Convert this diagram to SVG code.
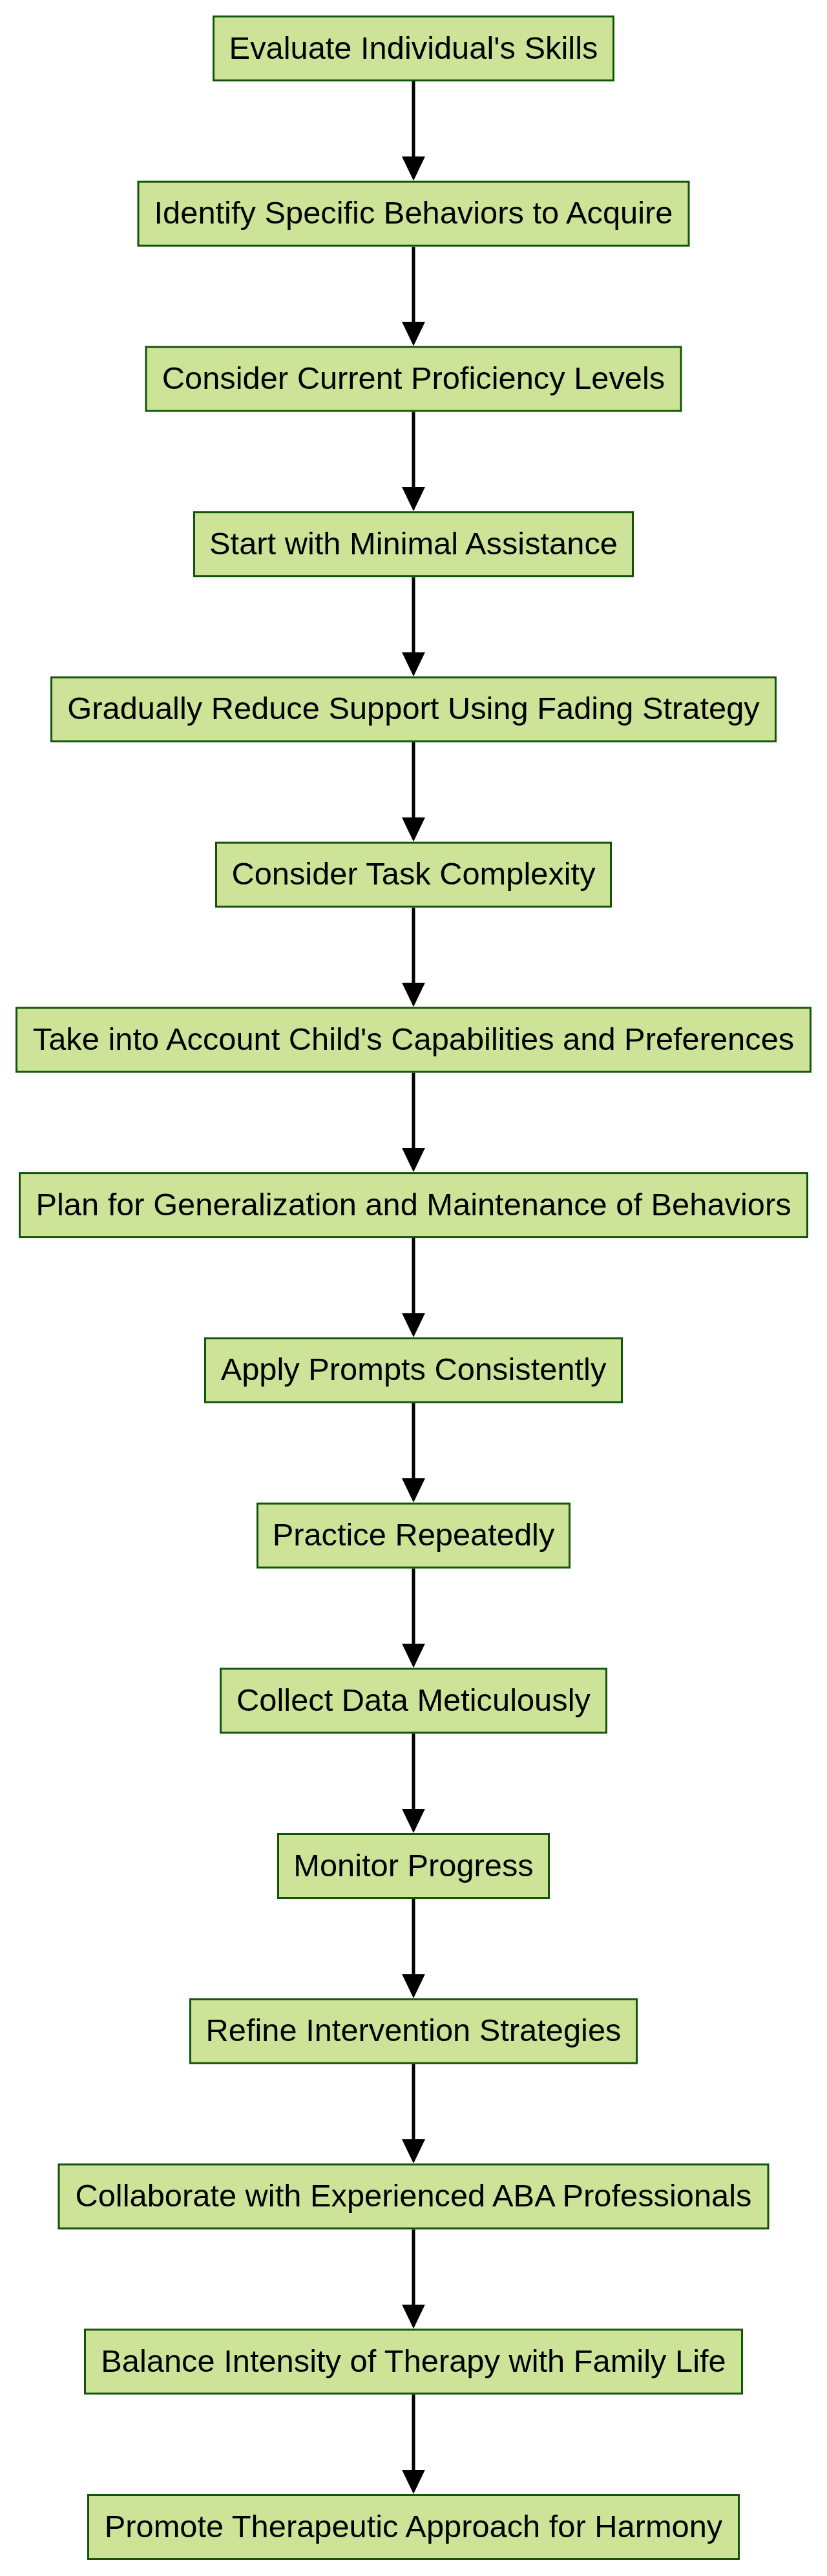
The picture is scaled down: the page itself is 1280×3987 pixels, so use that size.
<svg xmlns="http://www.w3.org/2000/svg" width="1280" height="3987" viewBox="0 0 1280 3987">
<style>
.node rect{fill:#cde498;stroke:#13540c;stroke-width:3}
.node text{font-family:"Liberation Sans",Arial,sans-serif;font-size:48.8px;fill:#000;text-anchor:middle}
.edge{stroke:#000;stroke-width:5;fill:none;marker-end:url(#arrow)}
</style>
<defs>
<marker id="arrow" markerUnits="userSpaceOnUse" viewBox="0 0 37.5 36" refX="27.5" refY="18" markerWidth="37.5" markerHeight="36" orient="auto">
<path d="M0,0 L37.5,18 L0,36 z" fill="#000"/>
</marker>
</defs>
<rect width="1280" height="3987" fill="#fff"/>
<g id="connectors">
<line class="edge" x1="640" y1="126" x2="640" y2="269.7"/>
<line class="edge" x1="640" y1="381.7" x2="640" y2="525.5"/>
<line class="edge" x1="640" y1="637.5" x2="640" y2="781.2"/>
<line class="edge" x1="640" y1="893.2" x2="640" y2="1036.9"/>
<line class="edge" x1="640" y1="1148.9" x2="640" y2="1292.7"/>
<line class="edge" x1="640" y1="1404.7" x2="640" y2="1548.4"/>
<line class="edge" x1="640" y1="1660.4" x2="640" y2="1804.1"/>
<line class="edge" x1="640" y1="1916.1" x2="640" y2="2059.8"/>
<line class="edge" x1="640" y1="2171.8" x2="640" y2="2315.6"/>
<line class="edge" x1="640" y1="2427.6" x2="640" y2="2571.3"/>
<line class="edge" x1="640" y1="2683.3" x2="640" y2="2827"/>
<line class="edge" x1="640" y1="2939" x2="640" y2="3082.8"/>
<line class="edge" x1="640" y1="3194.8" x2="640" y2="3338.5"/>
<line class="edge" x1="640" y1="3450.5" x2="640" y2="3594.2"/>
<line class="edge" x1="640" y1="3706.2" x2="640" y2="3850"/>
</g>
<g id="n1" class="node"><rect x="330.5" y="25.5" width="619" height="99"/><text x="640" y="90.5">Evaluate Individual's Skills</text></g>
<g id="n2" class="node"><rect x="214" y="281.2" width="852" height="99"/><text x="640" y="346.2">Identify Specific Behaviors to Acquire</text></g>
<g id="n3" class="node"><rect x="226" y="537" width="828" height="99"/><text x="640" y="602">Consider Current Proficiency Levels</text></g>
<g id="n4" class="node"><rect x="300.5" y="792.7" width="679" height="99"/><text x="640" y="857.7">Start with Minimal Assistance</text></g>
<g id="n5" class="node"><rect x="79.5" y="1048.4" width="1121" height="99"/><text x="640" y="1113.4">Gradually Reduce Support Using Fading Strategy</text></g>
<g id="n6" class="node"><rect x="334.5" y="1304.2" width="611" height="99"/><text x="640" y="1369.2">Consider Task Complexity</text></g>
<g id="n7" class="node"><rect x="25.5" y="1559.9" width="1229" height="99"/><text x="640" y="1624.9">Take into Account Child's Capabilities and Preferences</text></g>
<g id="n8" class="node"><rect x="30.5" y="1815.6" width="1219" height="99"/><text x="640" y="1880.6">Plan for Generalization and Maintenance of Behaviors</text></g>
<g id="n9" class="node"><rect x="317.5" y="2071.3" width="645" height="99"/><text x="640" y="2136.3">Apply Prompts Consistently</text></g>
<g id="n10" class="node"><rect x="398.5" y="2327.1" width="483" height="99"/><text x="640" y="2392.1">Practice Repeatedly</text></g>
<g id="n11" class="node"><rect x="341.5" y="2582.8" width="597" height="99"/><text x="640" y="2647.8">Collect Data Meticulously</text></g>
<g id="n12" class="node"><rect x="430.5" y="2838.5" width="419" height="99"/><text x="640" y="2903.5">Monitor Progress</text></g>
<g id="n13" class="node"><rect x="294.5" y="3094.3" width="691" height="99"/><text x="640" y="3159.3">Refine Intervention Strategies</text></g>
<g id="n14" class="node"><rect x="91" y="3350" width="1098" height="99"/><text x="640" y="3415">Collaborate with Experienced ABA Professionals</text></g>
<g id="n15" class="node"><rect x="131.5" y="3605.7" width="1017" height="99"/><text x="640" y="3670.7">Balance Intensity of Therapy with Family Life</text></g>
<g id="n16" class="node"><rect x="136.5" y="3861.5" width="1007" height="99"/><text x="640" y="3926.5">Promote Therapeutic Approach for Harmony</text></g>
</svg>
